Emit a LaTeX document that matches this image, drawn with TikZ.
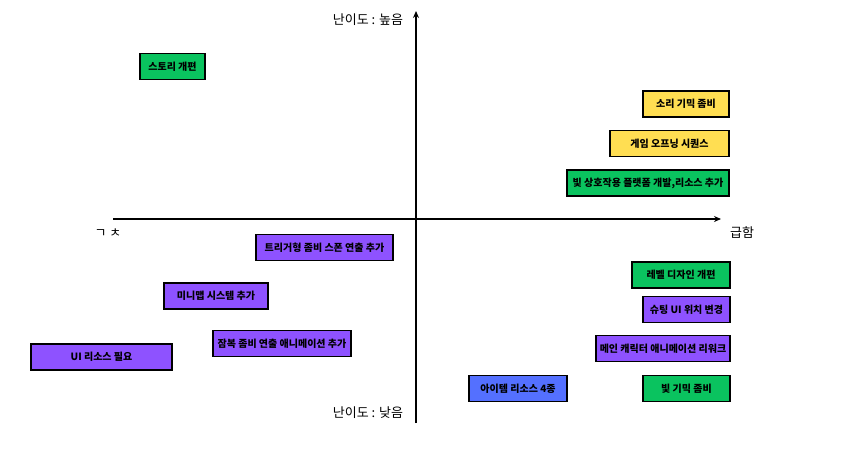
\documentclass[tikz,border=0pt]{standalone}
\usepackage{fontspec}
\setmainfont{Noto Sans CJK KR}
\usetikzlibrary{positioning, arrows.meta}

\begin{document}
\begin{tikzpicture}[
  x=1pt, y=-1pt,
  % ---- styles ----
  task/.style 2 args={%
    draw=black, line width=1.7pt, fill=#1, minimum width=#2, minimum height=26pt,
    inner sep=2pt, font=\fontsize{10}{11}\selectfont\bfseries, align=center, outer sep=0pt,
  },
  axislabel/.style={font=\fontsize{13}{14}\selectfont, inner sep=1pt},
  axisline/.style={line width=1.3pt, -{Stealth[length=7pt, width=6pt]}},
]

% ---- colour palette ----
\definecolor{Cg}{RGB}{10,195,95}     % green
\definecolor{Cy}{RGB}{255,222,82}    % yellow
\definecolor{Cv}{RGB}{142,82,255}    % violet
\definecolor{Cb}{RGB}{84,112,255}    % blue

\useasboundingbox (0,0) rectangle (850,450);

% =========================================================
% axes
% =========================================================
\coordinate (xL) at (113,219);
\coordinate (xR) at (721,219);
\coordinate (yB) at (416,423);
\coordinate (yT) at (416,11);

\draw[axisline] (xL) -- (xR);
\draw[axisline] (yB) -- (yT);

\node[axislabel] (Ltop) at (368,20)  {난이도 : 높음};
\node[axislabel] (Lbot) at (368,413) {난이도 : 낮음};
\node[axislabel] (Lright) at (742,233) {급함};
\node[axislabel] (Lleft) at (108,233) {ㄱ ㅊ};

% =========================================================
% upper left
% =========================================================
\node[task={Cg}{65pt}] (story) at (172.5,66.5) {스토리 개편};

% =========================================================
% upper right
% =========================================================
\node[task={Cy}{86pt}]  (sound)   at (686,104)   {소리 기믹 좀비};
\node[task={Cy}{119pt}] (opening) at (669.5,143.5) {게임 오프닝 시퀀스};
\node[task={Cg}{162pt}] (light)   at (648,183)   {빛 상호작용 플랫폼 개발,리소스 추가};

% =========================================================
% lower left
% =========================================================
\node[task={Cv}{137pt}] (trigger) at (324.5,247.5) {트리거형 좀비 스폰 연출 추가};
\node[task={Cv}{104pt}] (minimap) at (216,296)     {미니맵 시스템 추가};
\node[task={Cv}{138pt}] (ambush)  at (282,343.5)   {잠복 좀비 연출 애니메이션 추가};
\node[task={Cv}{141pt}] (uires)   at (101.5,357)   {UI 리소스 필요};

% =========================================================
% lower right
% =========================================================
\node[task={Cg}{98pt}]  (level)  at (681,275)     {레벨 디자인 개편};
\node[task={Cv}{87pt}]  (shoot)  at (686.5,309.5) {슈팅 UI 위치 변경};
\node[task={Cv}{134pt}] (mainch) at (663,348.5)   {메인 캐릭터 애니메이션 리워크};
\node[task={Cb}{98pt}]  (items)  at (518,388.5)   {아이템 리소스 4종};
\node[task={Cg}{87pt}]  (lgimm)  at (686.5,388.5) {빛 기믹 좀비};

\end{tikzpicture}
\end{document}
